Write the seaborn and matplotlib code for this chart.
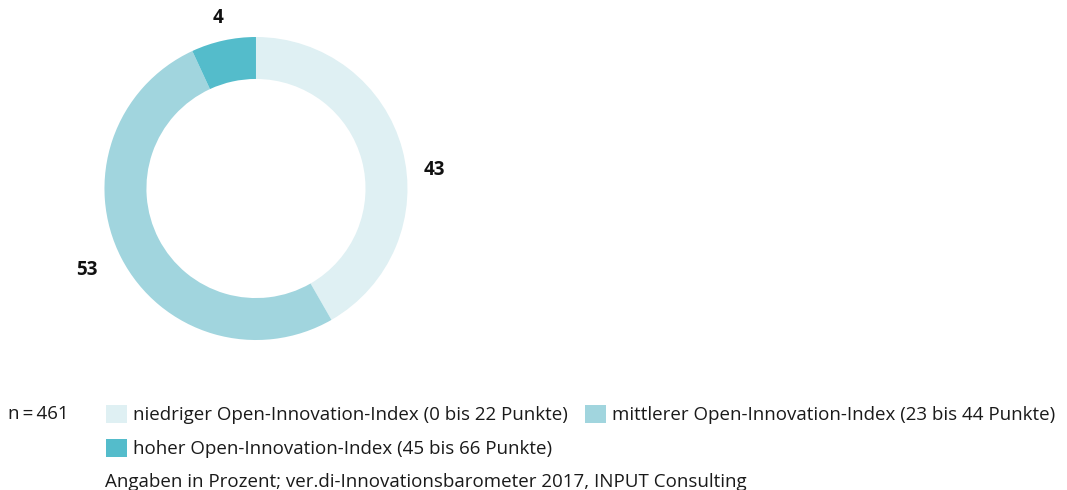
import matplotlib
matplotlib.use("Agg")
import matplotlib.pyplot as plt
from matplotlib.patches import Patch
import seaborn as sns

# Data (wedge shares as drawn, labels as printed)
categories = [
    "niedriger Open-Innovation-Index (0 bis 22 Punkte)",
    "mittlerer Open-Innovation-Index (23 bis 44 Punkte)",
    "hoher Open-Innovation-Index (45 bis 66 Punkte)",
]
shares = [41.7, 51.4, 6.9]
value_labels = ["43", "53", "4"]
colors = ["#dff0f3", "#a1d5de", "#54bccb"]

n_text = "n\u2009=\u2009461"
source_text = "Angaben in Prozent; ver.di-Innovationsbarometer 2017, INPUT Consulting"

sns.set_theme(style="white")
plt.rcParams["font.family"] = ["Open Sans", "DejaVu Sans"]

fig = plt.figure(figsize=(10.67, 4.9), dpi=100)
ax = fig.add_axes([0.0624, 0.2288, 0.355, 0.773])

wedges, _ = ax.pie(
    shares,
    colors=colors,
    startangle=90,
    counterclock=False,
    radius=1,
    wedgeprops=dict(width=0.277, linewidth=0),
)
ax.set_xlim(-1.25, 1.25)
ax.set_ylim(-1.25, 1.25)
ax.set_aspect("equal")

# value labels next to the ring
label_pos = [(1.18, 0.122), (-1.115, -0.538), (-0.251, 1.125)]
for txt, (x, y) in zip(value_labels, label_pos):
    ax.text(x, y, txt, ha="center", va="center", fontsize=13.5,
            fontweight="bold", color="#111111")

# legend (row-wise order: low, mid / high)
handles = [Patch(facecolor=c, edgecolor="none") for c in colors]
order = [0, 2, 1]
fig.legend(
    [handles[i] for i in order],
    [categories[i] for i in order],
    loc="upper left",
    bbox_to_anchor=(106 / 1067, 1 - 405 / 490),
    ncol=2,
    frameon=False,
    fontsize=13.5,
    handlelength=1.12,
    handleheight=1.12,
    handletextpad=0.33,
    columnspacing=0.9,
    labelspacing=0.77,
    borderpad=0,
    borderaxespad=0,
    labelcolor="#1a1a1a",
)

fig.text(8 / 1067, 1 - 414 / 490, n_text, ha="left", va="center",
         fontsize=13.5, color="#1a1a1a")
fig.text(105 / 1067, 1 - 481.5 / 490, source_text, ha="left", va="center",
         fontsize=13.5, color="#1a1a1a")

fig.savefig("out.png", dpi=100)
